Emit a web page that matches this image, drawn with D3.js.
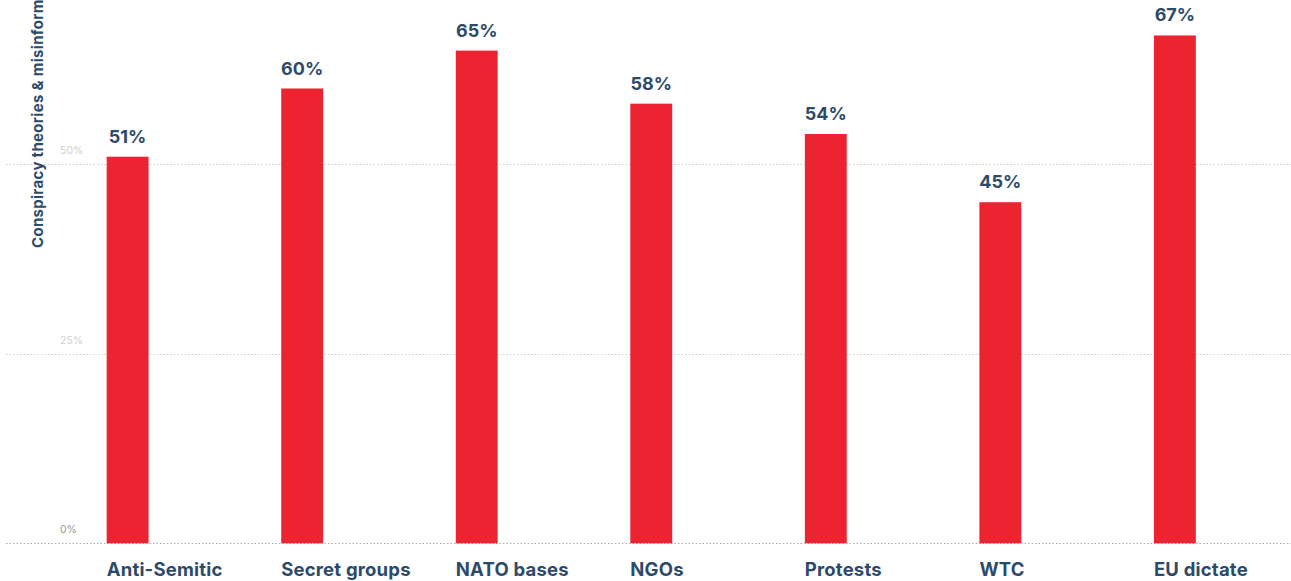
<!DOCTYPE html>
<html>
<head>
<meta charset="utf-8">
<script src="https://cdn.jsdelivr.net/npm/d3@7"></script>
<style>
  html, body { margin: 0; padding: 0; background: #fff; }
  svg { display: block; }
</style>
</head>
<body>
<svg id="chart" width="1291" height="581"></svg>
<script>
const categories = ["Anti-Semitic", "Secret groups", "NATO bases", "NGOs", "Protests", "WTC", "EU dictate"];
const values = [51, 60, 65, 58, 54, 45, 67];
const tickValues = [0, 25, 50];
const yTitle = "Conspiracy theories & misinformation";

const W = 1291, H = 581;
const svg = d3.select("#chart");
const navy = "#2d4a69";
const red = "#ec2330";
const font = "Inter, 'Open Sans', sans-serif";

const x = d3.scaleBand()
  .domain(categories)
  .range([19.4, 1283.1])
  .paddingInner(0.76)
  .paddingOuter(0.5);

const y = d3.scaleLinear()
  .domain([0, 50])
  .range([543.3, 164.3]);

// gridlines
const grid = svg.append("g");
grid.selectAll("line")
  .data(tickValues)
  .join("line")
  .attr("x1", 6).attr("x2", W)
  .attr("y1", d => Math.round(y(d)) + 0.5)
  .attr("y2", d => Math.round(y(d)) + 0.5)
  .attr("stroke", d => d === 0 ? "#aaaaaa" : "#cccccc")
  .attr("stroke-width", 1)
  .attr("stroke-dasharray", "1.5,2");

grid.selectAll("text")
  .data(tickValues)
  .join("text")
  .attr("x", 60)
  .attr("y", d => y(d) - 10)
  .attr("font-family", font)
  .attr("font-size", 10.5)
  .attr("fill", d => d === 0 ? "#999999" : "#cfcfcf")
  .text(d => d + "%");

// bars
svg.append("g").selectAll("rect")
  .data(values)
  .join("rect")
  .attr("x", (d, i) => x(categories[i]))
  .attr("width", x.bandwidth())
  .attr("y", d => y(d))
  .attr("height", d => y(0) - y(d))
  .attr("fill", red);

// value labels
svg.append("g").selectAll("text")
  .data(values)
  .join("text")
  .attr("x", (d, i) => x(categories[i]) + x.bandwidth() / 2)
  .attr("y", d => y(d) - 14)
  .attr("text-anchor", "middle")
  .attr("font-family", font)
  .attr("font-weight", 700)
  .attr("font-size", 18)
  .attr("fill", navy)
  .text(d => d + "%");

// category labels (left-aligned to bar start)
svg.append("g").selectAll("text")
  .data(categories)
  .join("text")
  .attr("x", d => x(d))
  .attr("y", 576)
  .attr("text-anchor", "start")
  .attr("font-family", font)
  .attr("font-weight", 700)
  .attr("font-size", 18.5)
  .attr("letter-spacing", 0.2)
  .attr("fill", navy)
  .text(d => d);

// y-axis title
svg.append("text")
  .attr("transform", "translate(43,248) rotate(-90)")
  .attr("text-anchor", "start")
  .attr("font-family", font)
  .attr("font-weight", 700)
  .attr("font-size", 15)
  .attr("letter-spacing", 0.3)
  .attr("fill", navy)
  .text(yTitle);
</script>
</body>
</html>
